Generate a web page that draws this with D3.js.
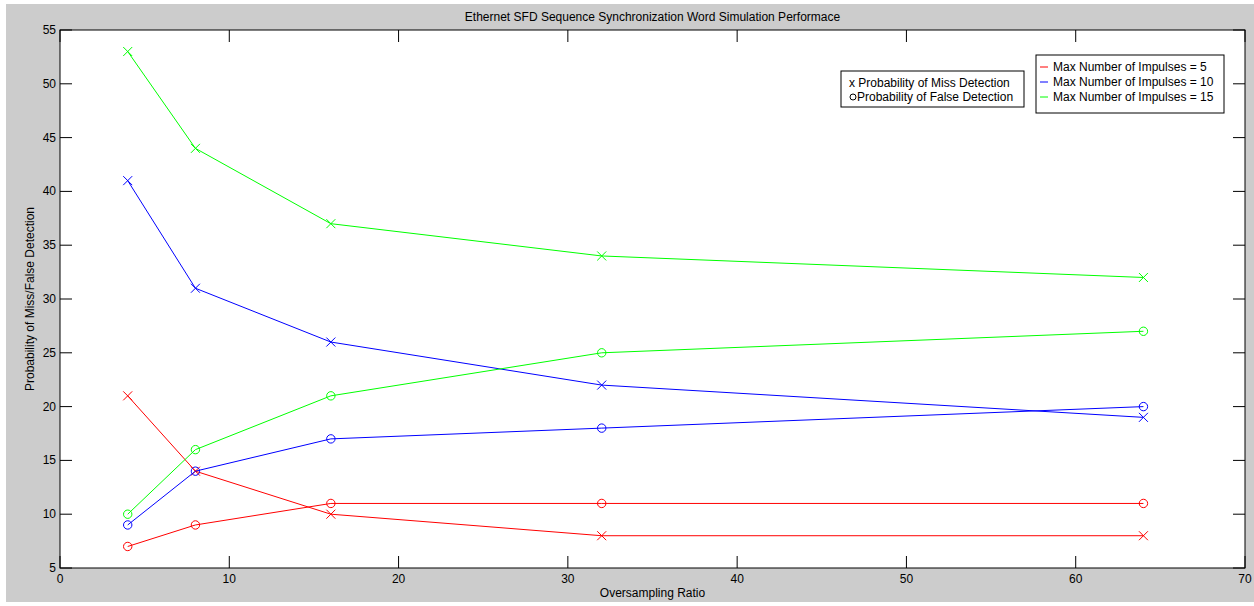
<!DOCTYPE html>
<html><head><meta charset="utf-8">
<script src="https://cdn.jsdelivr.net/npm/d3@7"></script>
<style>
body{margin:0;background:#fff;}
text{font-family:"Liberation Sans",Arial,sans-serif;}
</style></head>
<body><svg id="c" width="1254" height="606"></svg>
<script>
const xValues = [4, 8, 16, 32, 64];
const seriesNames = ["Max Number of Impulses = 5", "Max Number of Impulses = 10", "Max Number of Impulses = 15"];
const seriesColors = ["#ff0000", "#0000ff", "#00ff00"];
const missDetection = [
  [21, 14, 10, 8, 8],
  [41, 31, 26, 22, 19],
  [53, 44, 37, 34, 32]
];
const falseDetection = [
  [7, 9, 11, 11, 11],
  [9, 14, 17, 18, 20],
  [10, 16, 21, 25, 27]
];
const xTicks = [0, 10, 20, 30, 40, 50, 60, 70];
const yTicks = [5, 10, 15, 20, 25, 30, 35, 40, 45, 50, 55];
const titleText = "Ethernet SFD Sequence Synchronization Word Simulation Performace";
const xLabel = "Oversampling Ratio";
const yLabel = "Probability of Miss/False Detection";
const markerLegend = ["x Probability of Miss Detection", "Probability of False Detection"];

const svg = d3.select("#c");
svg.append("rect").attr("x", 6).attr("y", 4).attr("width", 1248).attr("height", 598).attr("fill", "#cccccc");

const L = 60, R = 1245, T = 30, B = 568;
const x = d3.scaleLinear().domain([0, 70]).range([L, R]);
const y = d3.scaleLinear().domain([5, 55]).range([B, T]);

svg.append("rect").attr("x", L).attr("y", T).attr("width", R - L).attr("height", B - T).attr("fill", "#fff");

const tl = 12;
const g = svg.append("g");
const ax = g.append("g");
xTicks.forEach(t => {
  ax.append("line").attr("x1", x(t)).attr("x2", x(t)).attr("y1", B).attr("y2", B - tl).attr("stroke", "#000");
  ax.append("line").attr("x1", x(t)).attr("x2", x(t)).attr("y1", T).attr("y2", T + tl).attr("stroke", "#000");
  ax.append("text").attr("x", x(t)).attr("y", B + 15).attr("text-anchor", "middle").attr("font-size", 12).attr("fill", "#000").text(t);
});
yTicks.forEach(t => {
  ax.append("line").attr("x1", L).attr("x2", L + tl).attr("y1", y(t)).attr("y2", y(t)).attr("stroke", "#000");
  ax.append("line").attr("x1", R).attr("x2", R - tl).attr("y1", y(t)).attr("y2", y(t)).attr("stroke", "#000");
  ax.append("text").attr("x", L - 4).attr("y", y(t) + 4).attr("text-anchor", "end").attr("font-size", 12).attr("fill", "#000").text(t);
});
g.append("rect").attr("x", L).attr("y", T).attr("width", R - L).attr("height", B - T).attr("fill", "none").attr("stroke", "#000").attr("stroke-width", 1);

const line = d3.line().x((d, i) => x(xValues[i])).y(d => y(d));
seriesColors.forEach((c, s) => {
  g.append("path").attr("d", line(missDetection[s])).attr("fill", "none").attr("stroke", c).attr("stroke-width", 1);
  g.append("path").attr("d", line(falseDetection[s])).attr("fill", "none").attr("stroke", c).attr("stroke-width", 1);
  missDetection[s].forEach((v, i) => {
    const cx = x(xValues[i]), cy = y(v), r = 4.5;
    g.append("path").attr("d", `M${cx - r},${cy - r}L${cx + r},${cy + r}M${cx - r},${cy + r}L${cx + r},${cy - r}`).attr("stroke", c).attr("stroke-width", 1).attr("fill", "none");
  });
  falseDetection[s].forEach((v, i) => {
    g.append("circle").attr("cx", x(xValues[i])).attr("cy", y(v)).attr("r", 4.2).attr("fill", "none").attr("stroke", c).attr("stroke-width", 1);
  });
});

svg.append("text").attr("x", (L + R) / 2).attr("y", 21).attr("text-anchor", "middle").attr("font-size", 12).text(titleText);
svg.append("text").attr("x", (L + R) / 2).attr("y", 597).attr("text-anchor", "middle").attr("font-size", 12).text(xLabel);
svg.append("text").attr("transform", `translate(34,${(T + B) / 2}) rotate(-90)`).attr("text-anchor", "middle").attr("font-size", 12).text(yLabel);

const lg1 = svg.append("g");
lg1.append("rect").attr("x", 841).attr("y", 71).attr("width", 183).attr("height", 36).attr("fill", "#fff").attr("stroke", "#000");
lg1.append("text").attr("x", 849).attr("y", 87).attr("font-size", 12).text(markerLegend[0]);
lg1.append("circle").attr("cx", 853).attr("cy", 97).attr("r", 3).attr("fill", "none").attr("stroke", "#000");
lg1.append("text").attr("x", 857).attr("y", 101).attr("font-size", 12).text(markerLegend[1]);

const lg2 = svg.append("g");
lg2.append("rect").attr("x", 1036).attr("y", 55).attr("width", 188).attr("height", 58).attr("fill", "#fff").attr("stroke", "#000");
seriesNames.forEach((n, i) => {
  const yy = 67 + i * 15;
  lg2.append("line").attr("x1", 1040).attr("x2", 1048).attr("y1", yy).attr("y2", yy).attr("stroke", seriesColors[i]);
  lg2.append("text").attr("x", 1053).attr("y", yy + 4).attr("font-size", 12).text(n);
});
</script></body></html>
